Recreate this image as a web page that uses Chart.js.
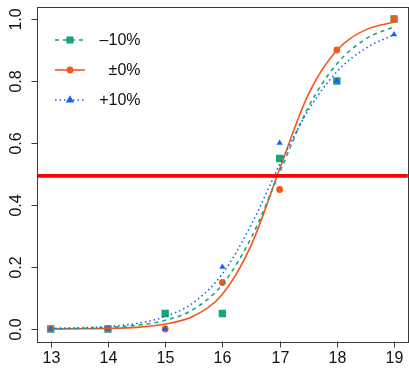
<!DOCTYPE html>
<html>
<head>
<meta charset="utf-8">
<script src="https://cdn.jsdelivr.net/npm/chart.js@4/dist/chart.umd.min.js"></script>
<style>
  html, body { margin: 0; padding: 0; overflow: hidden; background: #fff; }
  canvas { display: block; }
</style>
</head>
<body>
<canvas id="c" width="413" height="372"></canvas>
<script>
// Observed proportions per length
const lengths = [13, 14, 15, 16, 17, 18, 19];
const obsMinus10 = [0, 0, 0.05, 0.05, 0.55, 0.80, 1.00];
const obsZero    = [0, 0, 0, 0.15, 0.45, 0.90, 1.00];
const obsPlus10  = [0, 0, 0, 0.20, 0.60, 0.80, 0.95];

// Fitted curves sampled along the length axis
const fitX        = [13, 13.5, 14, 14.5, 15, 15.5, 16, 16.5, 17, 17.5, 18, 18.5, 19];
const fitMinus10  = [0.001, 0.002, 0.005, 0.012, 0.028, 0.064, 0.144, 0.293, 0.505, 0.715, 0.855, 0.935, 0.975];
const fitZero     = [0.0002, 0.0006, 0.0018, 0.0052, 0.016, 0.042, 0.112, 0.269, 0.516, 0.756, 0.899, 0.965, 0.99];
const fitPlus10   = [0.002, 0.004, 0.008, 0.018, 0.040, 0.086, 0.178, 0.335, 0.530, 0.705, 0.830, 0.905, 0.950];

// Axis ticks
const xTicks = [13, 14, 15, 16, 17, 18, 19];
const yTicks = [0, 0.2, 0.4, 0.6, 0.8, 1.0];
const yTickLabels = ['0.0', '0.2', '0.4', '0.6', '0.8', '1.0'];

// Reference level
const threshold = 0.494;

// Series labels
const seriesLabels = ['\u201310%', '\u00b10%', '+10%'];

const GREEN = '#14a77a';
const ORANGE = '#f4581c';
const BLUE = '#1560f4';
const FONT = "'Liberation Sans', Arial, Helvetica, sans-serif";

const pts = (xs, ys) => xs.map((x, i) => ({ x: x, y: ys[i] }));

const curveBase = {
  type: 'line', pointRadius: 0, borderWidth: 1.6, fill: false,
  cubicInterpolationMode: 'monotone'
};
const pointBase = {
  type: 'line', showLine: false, borderWidth: 0, pointBorderWidth: 0
};

const series = [
  { color: BLUE,   dash: [1.5, 3], style: 'triangle', radius: 3.6, legendRadius: 4.8 },
  { color: ORANGE, dash: [],       style: 'circle',   radius: 3.4, legendRadius: 3.4 },
  { color: GREEN,  dash: [4, 4],   style: 'rect',     radius: 5.2, legendRadius: 5.0 }
];

const datasets = [
  Object.assign({}, curveBase, { data: pts(fitX, fitPlus10),  borderColor: BLUE,   borderDash: series[0].dash }),
  Object.assign({}, curveBase, { data: pts(fitX, fitMinus10), borderColor: GREEN,  borderDash: series[2].dash }),
  Object.assign({}, curveBase, { data: pts(fitX, fitZero),    borderColor: ORANGE, borderDash: series[1].dash }),
  Object.assign({}, pointBase, { data: pts(lengths, obsPlus10),  pointStyle: 'triangle', pointRadius: series[0].radius, pointBackgroundColor: BLUE }),
  Object.assign({}, pointBase, { data: pts(lengths, obsZero),    pointStyle: 'circle',   pointRadius: series[1].radius, pointBackgroundColor: ORANGE }),
  Object.assign({}, pointBase, { data: pts(lengths, obsMinus10), pointStyle: 'rect',     pointRadius: series[2].radius, pointBackgroundColor: GREEN })
];

function drawMarker(ctx, style, r, x, y, color) {
  ctx.save();
  ctx.fillStyle = color;
  ctx.beginPath();
  if (style === 'rect') {
    const s = Math.SQRT1_2 * r;
    ctx.rect(x - s, y - s, 2 * s, 2 * s);
  } else if (style === 'circle') {
    ctx.arc(x, y, r, 0, Math.PI * 2);
  } else {
    let a = 0;
    ctx.moveTo(x + Math.sin(a) * r, y - Math.cos(a) * r);
    a += 2 * Math.PI / 3;
    ctx.lineTo(x + Math.sin(a) * r, y - Math.cos(a) * r);
    a += 2 * Math.PI / 3;
    ctx.lineTo(x + Math.sin(a) * r, y - Math.cos(a) * r);
    ctx.closePath();
  }
  ctx.fill();
  ctx.restore();
}

const framePlugin = {
  id: 'frame',
  afterDraw(chart) {
    const ctx = chart.ctx;
    const area = chart.chartArea;
    const xs = chart.scales.x;
    const ys = chart.scales.y;

    // reference level
    ctx.save();
    ctx.strokeStyle = '#ff0000';
    ctx.lineWidth = 3.6;
    const ty = ys.getPixelForValue(threshold);
    ctx.beginPath();
    ctx.moveTo(area.left, ty);
    ctx.lineTo(area.right, ty);
    ctx.stroke();
    ctx.restore();

    // plot box
    ctx.save();
    ctx.strokeStyle = '#3a3a3a';
    ctx.lineWidth = 1;
    ctx.strokeRect(Math.round(area.left) + 0.5, Math.round(area.top) + 0.5,
                   Math.round(area.right - area.left), Math.round(area.bottom - area.top));

    // x ticks and labels
    ctx.fillStyle = '#111';
    ctx.font = '16px ' + FONT;
    ctx.textAlign = 'center';
    ctx.textBaseline = 'middle';
    const bottom = Math.round(area.bottom) + 0.5;
    xTicks.forEach(v => {
      const px = Math.round(xs.getPixelForValue(v)) + 0.5;
      ctx.beginPath();
      ctx.moveTo(px, bottom);
      ctx.lineTo(px, bottom + 6);
      ctx.stroke();
      ctx.fillText(String(v), px, 359);
    });

    // y ticks and rotated labels
    const left = Math.round(area.left) + 0.5;
    yTicks.forEach((v, i) => {
      const py = Math.round(ys.getPixelForValue(v)) + 0.5;
      ctx.beginPath();
      ctx.moveTo(left, py);
      ctx.lineTo(left - 6, py);
      ctx.stroke();
      ctx.save();
      ctx.translate(17, py);
      ctx.rotate(-Math.PI / 2);
      ctx.fillText(yTickLabels[i], 0, 0);
      ctx.restore();
    });
    ctx.restore();

    // legend
    const rows = [
      { s: series[2], label: seriesLabels[0], y: 40 },
      { s: series[1], label: seriesLabels[1], y: 70 },
      { s: series[0], label: seriesLabels[2], y: 100 }
    ];
    rows.forEach(row => {
      ctx.save();
      ctx.strokeStyle = row.s.color;
      ctx.lineWidth = 1.6;
      ctx.setLineDash(row.s.dash);
      ctx.beginPath();
      ctx.moveTo(55, row.y);
      ctx.lineTo(85, row.y);
      ctx.stroke();
      ctx.restore();
      drawMarker(ctx, row.s.style, row.s.legendRadius, 70, row.y, row.s.color);
      ctx.save();
      ctx.fillStyle = '#111';
      ctx.font = '16px ' + FONT;
      ctx.textAlign = 'right';
      ctx.textBaseline = 'middle';
      ctx.fillText(row.label, 140.5, row.y + 1);
      ctx.restore();
    });
  }
};

new Chart(document.getElementById('c'), {
  type: 'line',
  data: { datasets: datasets },
  options: {
    responsive: false,
    animation: false,
    layout: { padding: { left: 37, top: 6.6, right: 1, bottom: 30.6 } },
    plugins: { legend: { display: false }, tooltip: { enabled: false } },
    scales: {
      x: { type: 'linear', min: 12.76, max: 19.24, display: false },
      y: { type: 'linear', min: -0.04, max: 1.04, display: false }
    }
  },
  plugins: [framePlugin]
});
</script>
</body>
</html>
